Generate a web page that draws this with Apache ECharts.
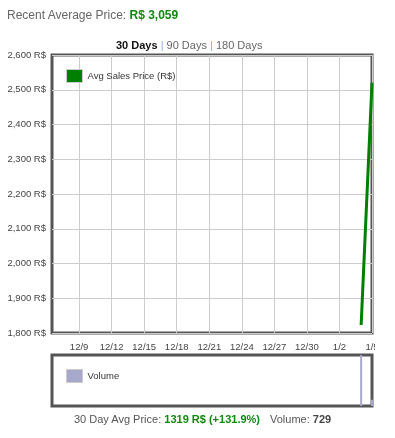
<!DOCTYPE html>
<html><head><meta charset="utf-8">
<script src="https://cdn.jsdelivr.net/npm/echarts@6/dist/echarts.min.js"></script>
<style>
html,body{margin:0;padding:0;background:#fff;font-family:"Liberation Sans",Arial,sans-serif;}
#hdr{position:absolute;left:7px;top:8px;font-size:12px;color:#666;white-space:nowrap;}
#hdr b{color:#118811;}
#tabs{position:absolute;left:116px;top:39px;font-size:11px;color:#666;white-space:nowrap;}
#tabs b{color:#111;}
#tabs span.sep{color:#8ab0e0;}
#foot{position:absolute;left:74px;top:413px;font-size:11px;color:#555;white-space:nowrap;}
#foot b.g{color:#118811;}
#foot b.k{color:#444;}
#foot span.v{margin-left:10px;}
#chart{position:absolute;left:0;top:0;width:375px;height:438px;}
</style></head>
<body>
<div id="chart"></div>
<div id="hdr">Recent Average Price: <b>R$ 3,059</b></div>
<div id="tabs"><b>30 Days</b><span class="sep"> | </span> 90 Days<span class="sep"> | </span> 180 Days</div>
<div id="foot">30 Day Avg Price: <b class="g">1319 R$ (+131.9%)</b><span class="v">Volume: <b class="k">729</b></span></div>
<script>
// Data
const xTickLabels = ['12/9','12/12','12/15','12/18','12/21','12/24','12/27','12/30','1/2','1/5'];
const xTickDates = ['2014-12-09','2014-12-12','2014-12-15','2014-12-18','2014-12-21','2014-12-24','2014-12-27','2014-12-30','2015-01-02','2015-01-05'];
const priceDates = ['2015-01-04','2015-01-05'];
const priceValues = [1823, 2520];
const volumeDates = ['2015-01-04','2015-01-05'];
const volumeValues = [650, 79];
const yTicks = [1800,1900,2000,2100,2200,2300,2400,2500,2600];

const ORIGIN = Date.UTC(2014,11,9);
function dayOf(s){const p=s.split('-').map(Number);return (Date.UTC(p[0],p[1]-1,p[2])-ORIGIN)/86400000;}
const tickDays = xTickDates.map(dayOf);
const labelMap = {}; tickDays.forEach((d,i)=>labelMap[d]=xTickLabels[i]);
const xMin = -2.5, xMax = dayOf('2015-01-05');

const chart = echarts.init(document.getElementById('chart'));
const fmt = v => v.toLocaleString('en-US') + ' R$';
chart.setOption({
  animation:false,
  textStyle:{fontFamily:'"Liberation Sans", Arial, sans-serif'},
  grid:[
    {left:52,top:55,width:320,height:278,show:true,borderColor:'#555',borderWidth:3,backgroundColor:'#fff',outerBoundsMode:'none',containLabel:false},
    {left:52,top:355,width:320,height:51,show:true,borderColor:'#555',borderWidth:3,backgroundColor:'#fff',outerBoundsMode:'none',containLabel:false}
  ],
  legend:[
    {data:['Avg Sales Price (R$)'],left:61,top:64,icon:'rect',itemWidth:16,itemHeight:13,itemGap:5,
     itemStyle:{borderColor:'#ccc',borderWidth:1},
     textStyle:{fontSize:9.5,color:'#333'}},
    {data:['Volume'],left:61,top:364,icon:'rect',itemWidth:16,itemHeight:13,itemGap:5,
     itemStyle:{borderColor:'#ccc',borderWidth:1},
     textStyle:{fontSize:9.5,color:'#333'}}
  ],
  xAxis:[
    {type:'value',gridIndex:0,min:xMin,max:xMax,
     axisLine:{show:false},axisTick:{show:false,customValues:tickDays},
     axisLabel:{customValues:tickDays,formatter:v=>labelMap[v]||'',fontSize:9.5,color:'#444',margin:9},
     splitLine:{show:true,lineStyle:{color:'#ccc',width:1}}},
    {type:'value',gridIndex:1,min:xMin,max:xMax,
     axisLine:{show:false},axisTick:{show:false},axisLabel:{show:false},splitLine:{show:false}}
  ],
  yAxis:[
    {type:'value',gridIndex:0,min:yTicks[0],max:yTicks[yTicks.length-1],interval:100,
     axisLine:{show:false},axisTick:{show:false},
     axisLabel:{formatter:fmt,fontSize:9.5,color:'#444',margin:6},
     splitLine:{show:true,lineStyle:{color:'#ccc',width:1}}},
    {type:'value',gridIndex:1,min:0,max:650,
     axisLine:{show:false},axisTick:{show:false},axisLabel:{show:false},splitLine:{show:false}}
  ],
  series:[
    {name:'Avg Sales Price (R$)',type:'line',xAxisIndex:0,yAxisIndex:0,
     data:priceDates.map((d,i)=>[dayOf(d),priceValues[i]]),
     showSymbol:false,color:'#008000',lineStyle:{width:3,color:'#008000'},clip:false},
    {name:'Volume',type:'bar',xAxisIndex:1,yAxisIndex:1,barWidth:2,
     data:volumeDates.map((d,i)=>[dayOf(d),volumeValues[i]]),
     color:'#a8a8cc',itemStyle:{color:'#a8a8cc'}}
  ]
});
</script>
</body></html>
